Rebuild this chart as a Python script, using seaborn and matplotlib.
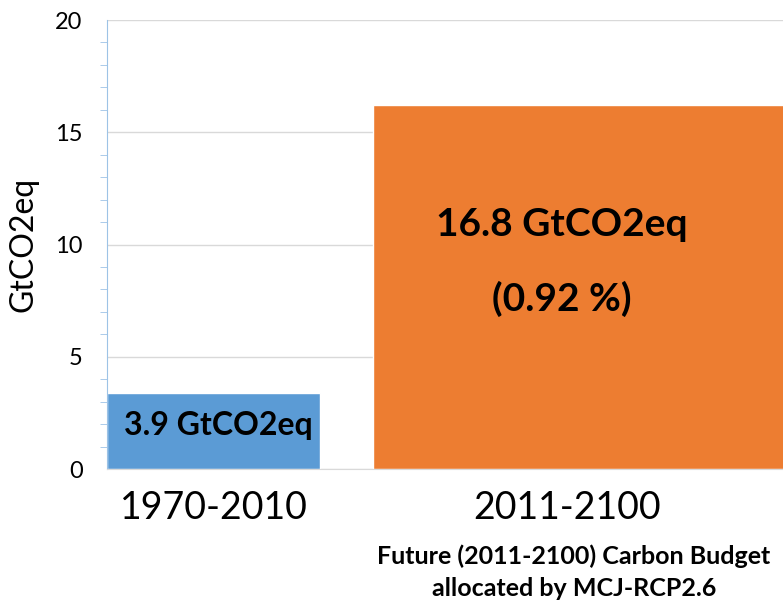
import matplotlib
matplotlib.use("Agg")
import matplotlib.pyplot as plt
import seaborn as sns
import pandas as pd
from matplotlib.ticker import MultipleLocator

# Data
periods = ['1970-2010', '2011-2100']
emissions = [3.4, 16.2]
past_label = '3.9 GtCO2eq'
future_label = '16.8 GtCO2eq'
future_share = '(0.92 %)'
colors = ['#5B9BD5', '#ED7D31']

df = pd.DataFrame({'period': periods, 'value': emissions})

sns.set_style('white')
plt.rcParams['font.family'] = ['Lato', 'DejaVu Sans']
plt.rcParams['text.color'] = 'black'

fig = plt.figure(figsize=(7.83, 6.07), dpi=100)
ax = fig.add_axes([0.1367, 0.2273, 0.8633, 0.7397])

sns.barplot(data=df, x='period', y='value', hue='period', palette=colors,
            width=0.8, saturation=1, legend=False, ax=ax, zorder=2)

# the future bar is drawn wider in the original
fut = ax.patches[1]
fut.set_x(0.6)
fut.set_width(1.6)

ax.set_xlim(-0.4, 2.14)
ax.set_ylim(0, 20)
ax.yaxis.set_major_locator(MultipleLocator(5))
ax.yaxis.set_minor_locator(MultipleLocator(1))
ax.grid(axis='y', color='#D9D9D9', linewidth=1, zorder=0)
ax.set_axisbelow(True)

for s in ['top', 'right']:
    ax.spines[s].set_visible(False)
ax.spines['left'].set_color('#9DC3E6')
ax.spines['bottom'].set_color('#D9D9D9')
ax.tick_params(axis='y', which='major', length=6.5, color='#9DC3E6',
               labelsize=17, pad=11, labelcolor='black')
ax.tick_params(axis='y', which='minor', length=5, color='#9DC3E6', left=True)
ax.tick_params(axis='x', length=0, labelsize=27, pad=15, labelcolor='black')
ax.set_xticks([0, 1.33])
ax.set_xticklabels(periods)
ax.set_xlabel('')
ax.set_ylabel('GtCO2eq', fontsize=23, labelpad=12, color='black')

# labels inside bars
ax.text(0.02, 1.96, past_label, ha='center', va='center',
        fontsize=23, fontweight='bold', zorder=3)
ax.text(1.31, 10.9, future_label, ha='center', va='center',
        fontsize=28, fontweight='bold', zorder=3)
ax.text(1.31, 7.6, future_share, ha='center', va='center',
        fontsize=28, fontweight='bold', zorder=3)

fig.text(0.733, 0.0575, 'Future (2011-2100) Carbon Budget\nallocated by MCJ-RCP2.6',
         ha='center', va='center', fontsize=18, fontweight='bold', linespacing=1.45)

fig.savefig('out.png', dpi=100)
